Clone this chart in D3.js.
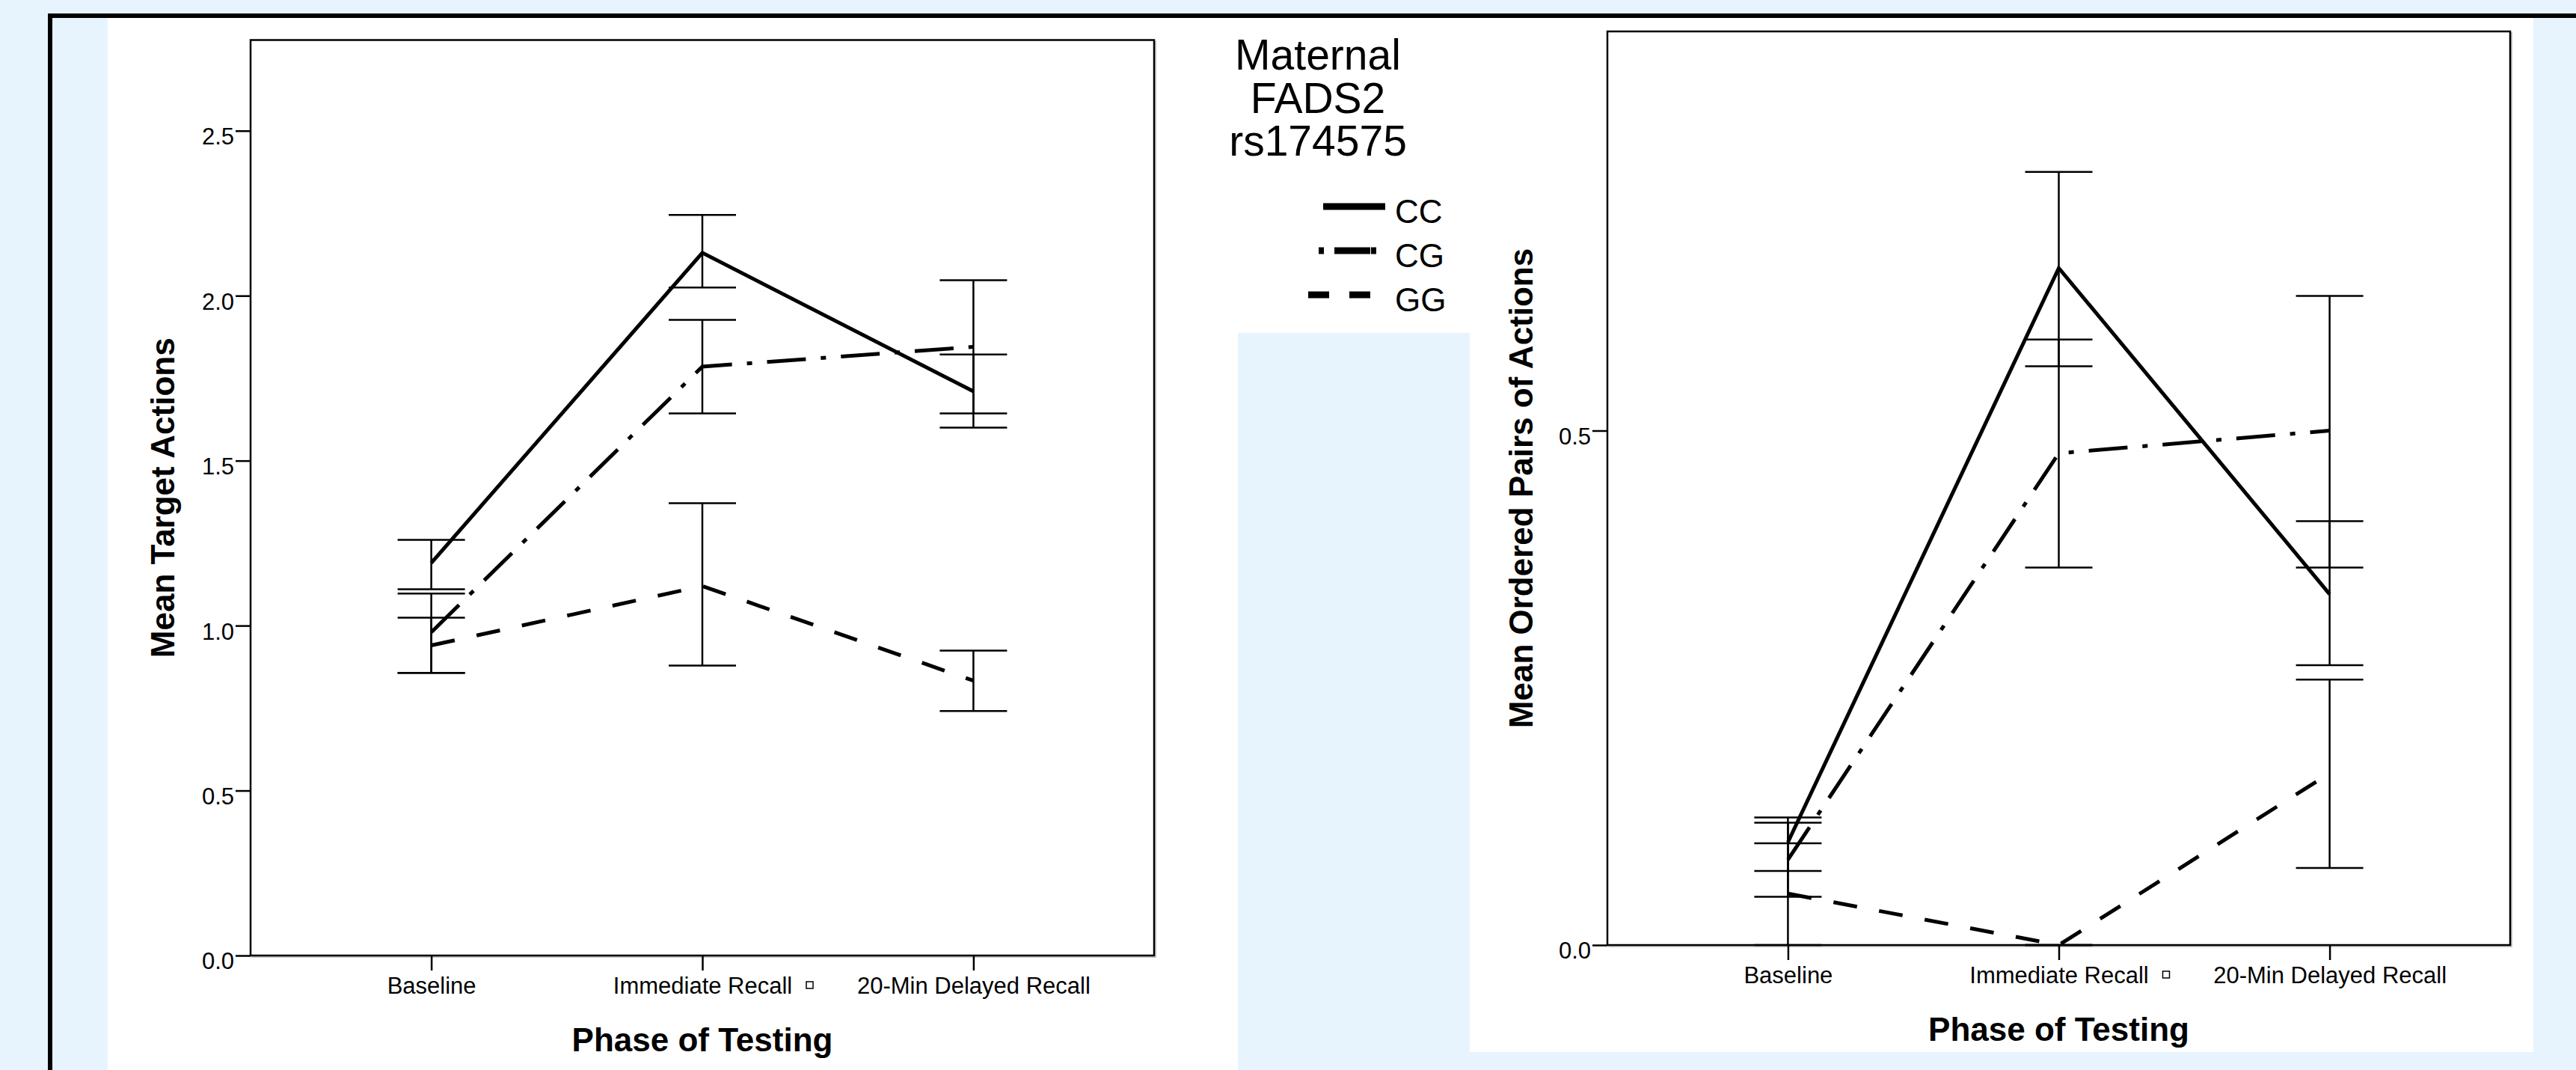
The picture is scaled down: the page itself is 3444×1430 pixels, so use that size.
<!DOCTYPE html>
<html><head><meta charset="utf-8">
<script src="https://cdn.jsdelivr.net/npm/d3@7"></script>
<style>
html,body{margin:0;padding:0;background:#e7f4fd;}
svg{display:block;}
text{font-family:"Liberation Sans",Arial,Helvetica,sans-serif;fill:#000;}
</style></head><body>
<svg id="chart" width="3444" height="1430"></svg>
<script>
// ---------- DATA ----------
const phases = ["Baseline", "Immediate Recall", "20-Min Delayed Recall"];
const genotypes = ["CC", "CG", "GG"];
const legendTitle = ["Maternal", "FADS2", "rs174575"];

// Left panel: Mean Target Actions
const targetCC     = [1.19, 2.13, 1.71];
const targetCCLow  = [1.11, 2.025, 1.60];
const targetCCHigh = [1.26, 2.245, 1.822];
const targetCG     = [0.98, 1.785, 1.845];
const targetCGLow  = [0.857, 1.643, 1.643];
const targetCGHigh = [1.097, 1.927, 2.047];
const targetGG     = [0.94, 1.12, 0.833];
const targetGGLow  = [0.857, 0.879, 0.741];
const targetGGHigh = [1.024, 1.371, 0.924];
const targetTicks  = [0.0, 0.5, 1.0, 1.5, 2.0, 2.5];
const targetMax    = 2.775;

// Right panel: Mean Ordered Pairs of Actions
const pairsCC     = [0.10, 0.658, 0.341];
const pairsCCLow  = [0.072, 0.5625, 0.272];
const pairsCCHigh = [0.124, 0.7514, 0.412];
const pairsCG     = [0.083, 0.478, 0.50];
const pairsCGLow  = [0.047, 0.367, 0.367];
const pairsCGHigh = [0.119, 0.5885, 0.631];
const pairsGG     = [0.05, 0.0, 0.167];
const pairsGGLow  = [0.0, 0.0, 0.075];
const pairsGGHigh = [0.099, 0.0, 0.258];
const pairsTicks  = [0.0, 0.5];
const pairsMax    = 0.888;

// ---------- STYLE ----------
const seriesStyle = {
  CC: {dash: null, width: 5},
  CG: {dash: "52 20 7 20", width: 5},
  GG: {dash: "32 30", width: 5}
};

const svg = d3.select("#chart");

// page background pieces
svg.append("rect").attr("x",0).attr("y",0).attr("width",3444).attr("height",1430).attr("fill","#e7f4fd");
svg.append("rect").attr("x",144).attr("y",24).attr("width",1511).attr("height",1406).attr("fill","#fff");
svg.append("rect").attr("x",1655).attr("y",24).attr("width",310).attr("height",421).attr("fill","#fff");
svg.append("rect").attr("x",1965).attr("y",24).attr("width",1422).attr("height",1382).attr("fill","#fff");
svg.append("rect").attr("x",64).attr("y",18).attr("width",3380).attr("height",6).attr("fill","#000");
svg.append("rect").attr("x",64).attr("y",18).attr("width",6).attr("height",1412).attr("fill","#000");

function buildSeries(means, lows, highs){
  return genotypes.map((g,i)=>({key:g, mean:means[i], low:lows[i], high:highs[i]}));
}

function drawPanel(cfg){
  const g = svg.append("g");
  const x = d3.scalePoint().domain(phases).range([cfg.left, cfg.right]).padding(2/3);
  const y = d3.scaleLinear().domain([0, cfg.max]).range([cfg.bottom, cfg.top]);

  // frame shadow + frame
  g.append("rect").attr("x",cfg.left+2).attr("y",cfg.top+2)
    .attr("width",cfg.right-cfg.left).attr("height",cfg.bottom-cfg.top)
    .attr("fill","none").attr("stroke","#c8c8c8").attr("stroke-width",2);
  g.append("rect").attr("x",cfg.left).attr("y",cfg.top)
    .attr("width",cfg.right-cfg.left).attr("height",cfg.bottom-cfg.top)
    .attr("fill","#fff").attr("stroke","#000").attr("stroke-width",2.5);

  // y axis
  const ya = g.append("g").attr("transform",`translate(${cfg.left},0)`)
    .call(d3.axisLeft(y).tickValues(cfg.ticks).tickSize(20).tickPadding(2).tickFormat(d3.format(".1f")));
  ya.select(".domain").remove();
  ya.selectAll(".tick line").attr("stroke","#000").attr("stroke-width",2.5);
  ya.selectAll(".tick text").attr("font-size",31).attr("dy","0.58em")
    .style("font-family",'"Liberation Sans",Arial,sans-serif');

  // x axis
  const xa = g.append("g").attr("transform",`translate(0,${cfg.bottom})`)
    .call(d3.axisBottom(x).tickSize(20).tickPadding(31));
  xa.select(".domain").remove();
  xa.selectAll(".tick line").attr("stroke","#000").attr("stroke-width",2.5);
  xa.selectAll(".tick text").attr("font-size",31).attr("dy","0")
    .style("font-family",'"Liberation Sans",Arial,sans-serif');
  // small box glyph after "Immediate Recall"
  g.append("rect").attr("x", x(phases[1]) + 139).attr("y", cfg.bottom + 35)
    .attr("width",9).attr("height",9).attr("fill","none").attr("stroke","#000").attr("stroke-width",1.5);

  // axis titles
  g.append("text").attr("transform",`translate(${cfg.yLabelX},${(cfg.top+cfg.bottom)/2}) rotate(-90)`)
    .attr("text-anchor","middle").attr("font-size",44).attr("font-weight","bold").text(cfg.yLabel);
  g.append("text").attr("x",(cfg.left+cfg.right)/2).attr("y",cfg.bottom+128)
    .attr("text-anchor","middle").attr("font-size",44).attr("font-weight","bold").text("Phase of Testing");

  // error bars
  cfg.series.forEach(s=>{
    phases.forEach((p,i)=>{
      const cx = x(p);
      const eb = g.append("g").attr("stroke","#000").attr("stroke-width",2.5);
      eb.append("line").attr("x1",cx).attr("x2",cx).attr("y1",y(s.low[i])).attr("y2",y(s.high[i]));
      [s.low[i], s.high[i]].forEach(v=>{
        eb.append("line").attr("x1",cx-45).attr("x2",cx+45).attr("y1",y(v)).attr("y2",y(v));
      });
    });
  });

  // lines
  const line = d3.line().x((d,i)=>x(phases[i])).y(d=>y(d));
  cfg.series.forEach(s=>{
    const st = seriesStyle[s.key];
    g.append("path").datum(s.mean).attr("d",line)
      .attr("fill","none").attr("stroke","#000").attr("stroke-width",st.width)
      .attr("stroke-dasharray",st.dash);
  });
}

drawPanel({
  left:335, right:1543, top:53.5, bottom:1277, max:targetMax, ticks:targetTicks,
  yLabel:"Mean Target Actions", yLabelX:233,
  series:[
    {key:"CC", mean:targetCC, low:targetCCLow, high:targetCCHigh},
    {key:"CG", mean:targetCG, low:targetCGLow, high:targetCGHigh},
    {key:"GG", mean:targetGG, low:targetGGLow, high:targetGGHigh}
  ]
});

drawPanel({
  left:2149, right:3356, top:42, bottom:1263, max:pairsMax, ticks:pairsTicks,
  yLabel:"Mean Ordered Pairs of Actions", yLabelX:2049,
  series:[
    {key:"CC", mean:pairsCC, low:pairsCCLow, high:pairsCCHigh},
    {key:"CG", mean:pairsCG, low:pairsCGLow, high:pairsCGHigh},
    {key:"GG", mean:pairsGG, low:pairsGGLow, high:pairsGGHigh}
  ]
});

// legend
const lg = svg.append("g");
lg.selectAll("text.title").data(legendTitle).join("text").attr("class","title")
  .attr("x",1762).attr("y",(d,i)=>93+i*57.5).attr("text-anchor","middle")
  .attr("font-size",57).text(d=>d);
const legendStartX = {CC:1769, CG:1763, GG:1749};
genotypes.forEach((gname,i)=>{
  const yy = 276 + i*59;
  const st = seriesStyle[gname];
  lg.append("line").attr("x1",legendStartX[gname]).attr("x2",legendStartX[gname]+83)
    .attr("y1",yy).attr("y2",yy).attr("stroke","#000").attr("stroke-width",9)
    .attr("stroke-dasharray", gname==="CG" ? "7 14 48 1 7" : (gname==="GG" ? "28 27" : null));
  lg.append("text").attr("x",1865).attr("y",yy+22).attr("font-size",44).text(gname);
});
</script>
</body></html>
